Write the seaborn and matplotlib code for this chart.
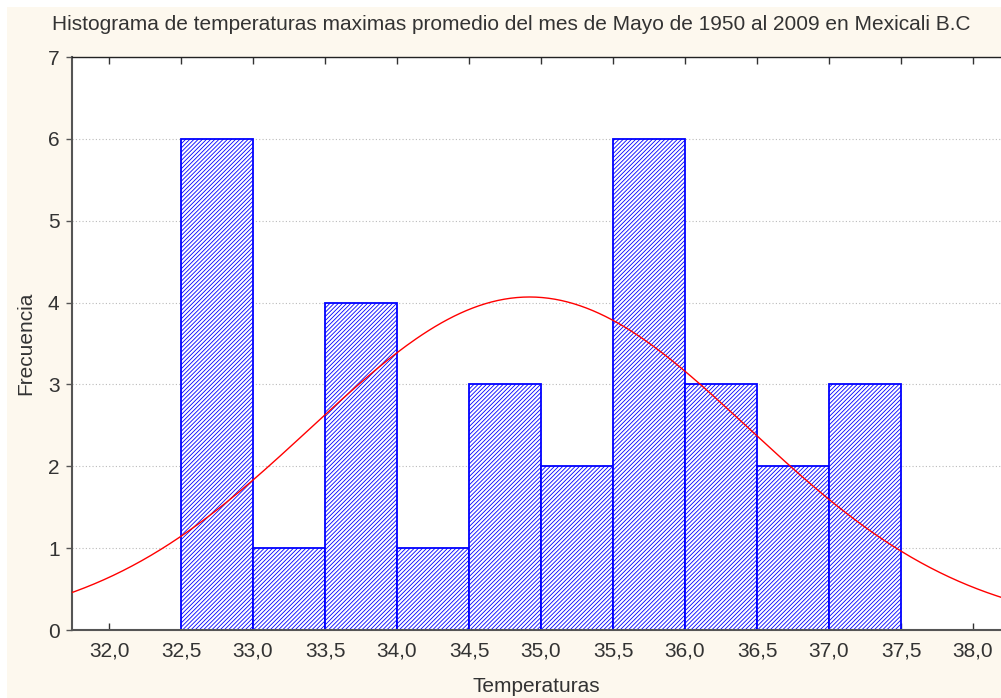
import numpy as np
import matplotlib
matplotlib.use('Agg')
import matplotlib.pyplot as plt
import seaborn as sns
from matplotlib.patches import Rectangle

# bins of 0.5 degrees, counts
bin_left = [32.5, 33.0, 33.5, 34.0, 34.5, 35.0, 35.5, 36.0, 36.5, 37.0]
counts = [6, 1, 4, 1, 3, 2, 6, 3, 2, 3]
bin_width = 0.5

# fitted normal curve parameters
mu = 34.92
sigma = 1.52

x_ticks = [32.0, 32.5, 33.0, 33.5, 34.0, 34.5, 35.0, 35.5, 36.0, 36.5, 37.0, 37.5, 38.0]
y_ticks = [0, 1, 2, 3, 4, 5, 6, 7]

title = 'Histograma de temperaturas maximas promedio del mes de Mayo de 1950 al 2009 en Mexicali B.C'

sns.set_style('white')
plt.rcParams['font.family'] = ['Liberation Sans', 'DejaVu Sans']
plt.rcParams['hatch.linewidth'] = 0.6

fig = plt.figure(figsize=(10.01, 6.98), dpi=100, facecolor='white')
fig.patches.append(Rectangle((7 / 1001, 0), 1, 1 - 7 / 698, transform=fig.transFigure,
                             facecolor='#FDF8EE', edgecolor='none', zorder=-10))
ax = fig.add_axes([72 / 1001, 68 / 698, 1 - 72 / 1001, (630 - 57) / 698])
ax.set_facecolor('white')

edges = bin_left + [bin_left[-1] + bin_width]
mids = [b + bin_width / 2 for b in bin_left]
sns.histplot(x=mids, weights=counts, bins=edges, ax=ax, stat='count',
             facecolor='white', edgecolor='#0000FF', hatch='////////', linewidth=1.3,
             alpha=1, zorder=2)

xs = np.linspace(31.7, 38.25, 300)
ys = sum(counts) * bin_width * np.exp(-0.5 * ((xs - mu) / sigma) ** 2) / (sigma * np.sqrt(2 * np.pi))
sns.lineplot(x=xs, y=ys, ax=ax, color='#FF0000', linewidth=1.0, zorder=3)

ax.set_xlim(31.743, 38.194)
ax.set_ylim(0, 7)
ax.set_xticks(x_ticks)
ax.set_xticklabels([f'{v:.1f}'.replace('.', ',') for v in x_ticks])
ax.set_yticks(y_ticks)
ax.yaxis.grid(True, linestyle=(0, (1, 2)), color='#BBBBBB', linewidth=0.8, zorder=0)
ax.set_axisbelow(True)

ax.tick_params(axis='x', direction='in', top=True, bottom=True, length=5, width=1,
               color='#333333', labelsize=15, pad=8, labelcolor='#333333')
ax.tick_params(axis='y', direction='out', left=True, length=4, width=1,
               color='#555555', labelsize=15, pad=5, labelcolor='#333333')

for side in ['left', 'bottom']:
    ax.spines[side].set_color('#555555')
    ax.spines[side].set_linewidth(1.5)
ax.spines['top'].set_color('#222222')
ax.spines['top'].set_linewidth(1)
ax.spines['right'].set_visible(False)

ax.set_xlabel('Temperaturas', fontsize=15, color='#333333', labelpad=12)
ax.set_ylabel('Frecuencia', fontsize=15, color='#333333', labelpad=9)
fig.text(52 / 1001, 1 - 24 / 698, title, fontsize=15, color='#333333', ha='left', va='center')

fig.savefig('out.png', dpi=100, facecolor=fig.get_facecolor())
